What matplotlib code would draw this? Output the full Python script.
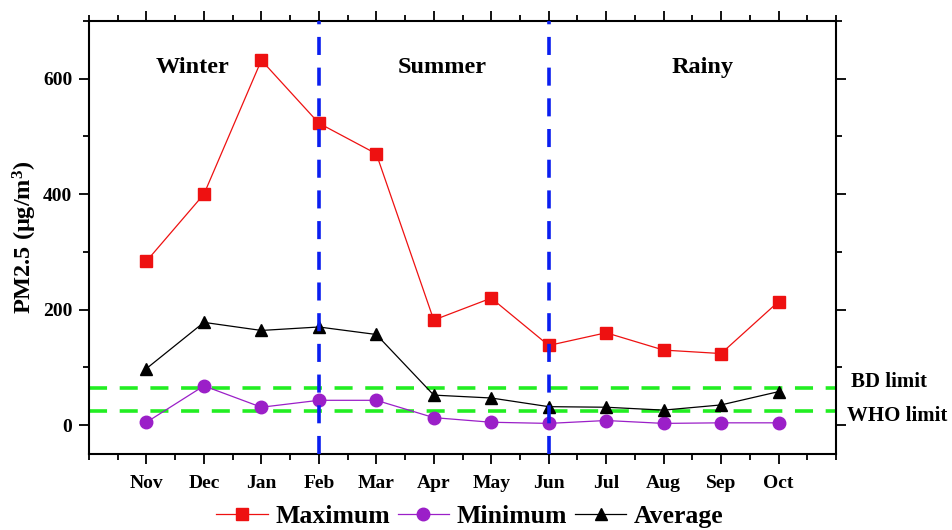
"""
Monthly PM2.5 concentrations with seasonal split and air quality limits
"""
import matplotlib
matplotlib.use('Agg')
import matplotlib.pyplot as plt
from matplotlib.ticker import MultipleLocator

months = ['Nov', 'Dec', 'Jan', 'Feb', 'Mar', 'Apr', 'May', 'Jun', 'Jul', 'Aug', 'Sep', 'Oct']
pm_max = [284, 400, 632, 523, 470, 182, 220, 138, 160, 130, 124, 214]
pm_min = [5, 68, 31, 43, 43, 13, 5, 3, 8, 3, 4, 4]
pm_avg = [98, 178, 164, 170, 157, 52, 47, 32, 31, 26, 35, 58]

season_names = ['Winter', 'Summer', 'Rainy']
season_breaks = ['Feb', 'Jun']
bd_limit = 65
who_limit = 25

plt.rcParams['font.family'] = ['Liberation Serif', 'DejaVu Serif']
plt.rcParams['font.weight'] = 'bold'
plt.rcParams['mathtext.fontset'] = 'custom'
plt.rcParams['mathtext.rm'] = 'Liberation Serif:bold'
plt.rcParams['mathtext.it'] = 'Liberation Serif:bold'

fig = plt.figure(figsize=(9.52, 5.30), dpi=100)
ax = fig.add_axes([89 / 952, 1 - 454 / 530, (836 - 89) / 952, (454 - 21) / 530])

x = list(range(1, len(months) + 1))

ax.plot(x, pm_max, color='#ee1111', lw=0.9, marker='s', ms=8, label='Maximum')
ax.plot(x, pm_min, color='#9b1fc8', lw=0.9, marker='o', ms=9, label='Minimum')
ax.plot(x, pm_avg, color='black', lw=0.9, marker='^', ms=9, label='Average')

# WHO / Bangladesh standard lines
for lim in (bd_limit, who_limit):
    ax.axhline(lim, color='#22ee22', lw=2.6, ls=(0, (5, 3.5)), zorder=1)
ax.text(1.02, bd_limit + 9, 'BD limit', transform=ax.get_yaxis_transform(),
        fontsize=15, fontweight='bold', va='center', ha='left')
ax.text(1.015, who_limit - 9, 'WHO limit', transform=ax.get_yaxis_transform(),
        fontsize=15, fontweight='bold', va='center', ha='left')

# season boundaries
for m in season_breaks:
    ax.axvline(months.index(m) + 1, color='#0a1ef0', lw=2.6, ls=(0, (5, 3.5)), zorder=3)

for name, xpos in zip(season_names, [1.81, 6.15, 10.68]):
    ax.text(xpos, 619, name, fontsize=17.5, fontweight='bold', ha='center', va='center')

ax.set_xlim(0, 13)
ax.set_ylim(-50, 700)
ax.set_xticks(x)
ax.set_xticklabels(months)
ax.xaxis.set_minor_locator(MultipleLocator(0.5))
ax.set_yticks([0, 200, 400, 600])
ax.yaxis.set_minor_locator(MultipleLocator(100))

ax.tick_params(which='both', direction='out', top=True, right=True,
               labeltop=False, labelright=False, width=1.3, labelsize=14)
ax.tick_params(which='major', length=7)
ax.tick_params(axis='x', which='major', pad=8)
ax.tick_params(axis='y', which='major', pad=5)
ax.tick_params(which='minor', length=4)
for lbl in ax.get_xticklabels() + ax.get_yticklabels():
    lbl.set_fontweight('bold')
for sp in ax.spines.values():
    sp.set_linewidth(1.5)

ax.set_ylabel('PM2.5 (μg/m$^3$)', fontsize=17.5, fontweight='bold', labelpad=3)

ax.legend(loc='center', bbox_to_anchor=(0.51, -0.145), ncol=3, frameon=False,
          numpoints=1, handlelength=2.0, handletextpad=0.3, columnspacing=0.3,
          prop={'family': 'Liberation Serif', 'weight': 'bold', 'size': 18.5})

plt.savefig('out.png', dpi=100)
plt.close()
